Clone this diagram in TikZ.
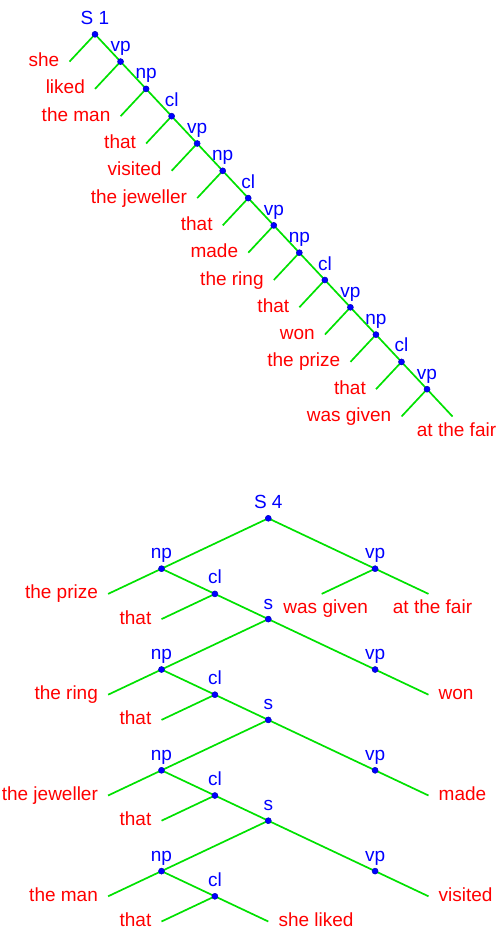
\documentclass[tikz,border=0pt]{standalone}
\usepackage{fontspec}
\setmainfont{Liberation Sans}
\definecolor{lgreen}{RGB}{0,225,0}
\definecolor{lblue}{RGB}{0,0,255}
\definecolor{lred}{RGB}{255,0,0}
\begin{document}
\begin{tikzpicture}[x=1pt,y=-1pt,
  edge/.style={draw=lgreen,line width=1.7pt},
  dot/.style={circle,fill=lblue,draw=blue!75!black,line width=0.5pt,inner sep=0pt,minimum size=6pt},
  cat/.style={text=lblue,anchor=base,inner sep=0pt,yshift=10pt,font=\fontsize{19}{21}\selectfont},
  word/.style={text=lred,inner sep=0pt,font=\fontsize{19}{21}\selectfont},
  lword/.style={word,anchor=base east,xshift=-10pt,yshift=-5pt},
  rword/.style={word,anchor=base west,xshift=10pt,yshift=-5pt},
  bword/.style={word,anchor=base,xshift=4pt,yshift=-20pt}]
\useasboundingbox (0,0) rectangle (499,928);
% ---------------- top tree ----------------
\foreach \i in {0,...,13}{
  \coordinate (t\i) at ({95+25.54*\i},{34.3+27.3*\i});
  \coordinate (tl\i) at ({95+25.54*\i-25.5},{34.3+27.3*\i+27.3});
}
\coordinate (tr) at ({95+25.54*13+25.5},{34.3+27.3*13+27.3});
\foreach \i in {0,...,13}{ \draw[edge] (t\i) -- (tl\i); }
\foreach \i [evaluate=\i as \j using int(\i+1)] in {0,...,12}{ \draw[edge] (t\i) -- (t\j); }
\draw[edge] (t13) -- (tr);
\foreach \i in {0,...,13}{ \node[dot] (td\i) at (t\i) {}; }
\foreach \lab [count=\i from 0] in {S 1,vp,np,cl,vp,np,cl,vp,np,cl,vp,np,cl,vp}{
  \node[cat] (tc\i) at (t\i) {\lab};
}
\foreach \lab [count=\i from 0] in {she,liked,the man,that,visited,the jeweller,that,made,the ring,that,won,the prize,that,was given}{
  \node[lword] (tw\i) at (tl\i) {\lab};
}
\node[bword] (twr) at (tr) {at the fair};
% ---------------- bottom tree ----------------
\def\X#1{{268.3+53.4*(#1)}}
\def\Y#1{{518.3+25.2*(#1)}}
\coordinate (S) at (\X{0},\Y{0});
\coordinate (np1) at (\X{-2},\Y{2});  \coordinate (vp1) at (\X{2},\Y{2});
\coordinate (wg) at (\X{1},\Y{3});    \coordinate (atf) at (\X{3},\Y{3});
\coordinate (prize) at (\X{-3},\Y{3}); \coordinate (cl1) at (\X{-1},\Y{3});
\coordinate (that1) at (\X{-2},\Y{4}); \coordinate (s1) at (\X{0},\Y{4});
\coordinate (np2) at (\X{-2},\Y{6});  \coordinate (vp2) at (\X{2},\Y{6});
\coordinate (won) at (\X{3},\Y{7});
\coordinate (ring) at (\X{-3},\Y{7}); \coordinate (cl2) at (\X{-1},\Y{7});
\coordinate (that2) at (\X{-2},\Y{8}); \coordinate (s2) at (\X{0},\Y{8});
\coordinate (np3) at (\X{-2},\Y{10}); \coordinate (vp3) at (\X{2},\Y{10});
\coordinate (made) at (\X{3},\Y{11});
\coordinate (jew) at (\X{-3},\Y{11}); \coordinate (cl3) at (\X{-1},\Y{11});
\coordinate (that3) at (\X{-2},\Y{12}); \coordinate (s3) at (\X{0},\Y{12});
\coordinate (np4) at (\X{-2},\Y{14}); \coordinate (vp4) at (\X{2},\Y{14});
\coordinate (visited) at (\X{3},\Y{15});
\coordinate (man) at (\X{-3},\Y{15}); \coordinate (cl4) at (\X{-1},\Y{15});
\coordinate (that4) at (\X{-2},\Y{16}); \coordinate (sl) at (\X{0},\Y{16});
\draw[edge] (np1) -- (S) -- (vp1);
\draw[edge] (wg) -- (vp1) -- (atf);
\draw[edge] (prize) -- (np1) -- (cl1) -- (s1);
\draw[edge] (that1) -- (cl1);
\draw[edge] (np2) -- (s1) -- (vp2) -- (won);
\draw[edge] (ring) -- (np2) -- (cl2) -- (s2);
\draw[edge] (that2) -- (cl2);
\draw[edge] (np3) -- (s2) -- (vp3) -- (made);
\draw[edge] (jew) -- (np3) -- (cl3) -- (s3);
\draw[edge] (that3) -- (cl3);
\draw[edge] (np4) -- (s3) -- (vp4) -- (visited);
\draw[edge] (man) -- (np4) -- (cl4) -- (sl);
\draw[edge] (that4) -- (cl4);
\foreach \n/\lab in {S/S 4,np1/np,vp1/vp,cl1/cl,s1/s,np2/np,vp2/vp,cl2/cl,s2/s,np3/np,vp3/vp,cl3/cl,s3/s,np4/np,vp4/vp,cl4/cl}{
  \node[dot] (d\n) at (\n) {};
  \node[cat] (c\n) at (\n) {\lab};
}
\node[bword] (wwg) at (wg) {was given};
\node[bword] (watf) at (atf) {at the fair};
\foreach \n/\lab in {prize/the prize,that1/that,ring/the ring,that2/that,jew/the jeweller,that3/that,man/the man,that4/that}{
  \node[lword] (w\n) at (\n) {\lab};
}
\foreach \n/\lab in {won/won,made/made,visited/visited,sl/she liked}{
  \node[rword] (w\n) at (\n) {\lab};
}
\end{tikzpicture}
\end{document}
